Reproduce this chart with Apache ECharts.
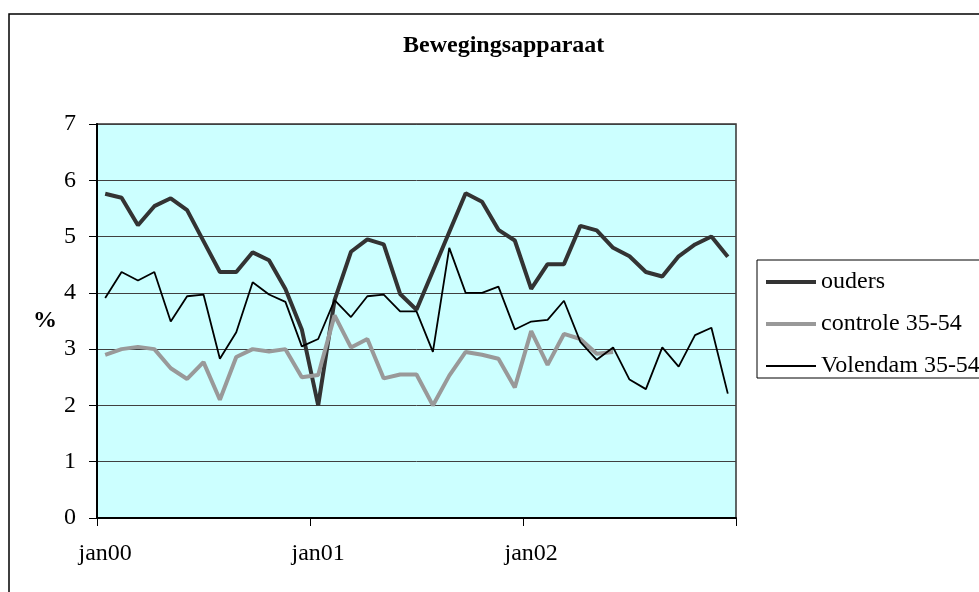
<!DOCTYPE html>
<html>
<head>
<meta charset="utf-8">
<script src="https://cdn.jsdelivr.net/npm/echarts@6/dist/echarts.min.js"></script>
<style>
html,body{margin:0;padding:0;background:#fff;}
#chart{width:979px;height:592px;}
</style>
</head>
<body>
<div id="chart"></div>
<script>
// 13 vierwekelijkse perioden per jaar, label alleen bij de eerste periode
var years = ["00", "01", "02"];
var periodsPerYear = 13;
var categories = [];
years.forEach(function(y){
	for (var p = 1; p <= periodsPerYear; p++) {
		categories.push(p === 1 ? "jan" + y : "p" + p + "-" + y);
	}
});

var ouders = [5.76, 5.69, 5.20, 5.54, 5.68, 5.47, 4.92, 4.37, 4.37, 4.72, 4.58, 4.07, 3.35,
	2.00, 3.87, 4.73, 4.95, 4.86, 3.98, 3.70, 4.39, 5.08, 5.77, 5.62, 5.12, 4.93,
	4.07, 4.51, 4.51, 5.19, 5.11, 4.80, 4.65, 4.37, 4.29, 4.65, 4.86, 5.00, 4.64];
var controle = [2.90, 3.00, 3.04, 3.00, 2.66, 2.47, 2.77, 2.10, 2.86, 3.00, 2.96, 3.00, 2.50,
	2.54, 3.60, 3.03, 3.18, 2.48, 2.55, 2.55, 2.00, 2.53, 2.95, 2.90, 2.83, 2.32,
	3.32, 2.72, 3.27, 3.18, 2.92, 2.95, null, null, null, null, null, null, null];
var volendam = [3.91, 4.37, 4.22, 4.37, 3.49, 3.94, 3.97, 2.83, 3.30, 4.19, 3.97, 3.84, 3.05,
	3.18, 3.87, 3.57, 3.94, 3.97, 3.67, 3.67, 2.95, 4.80, 4.00, 4.00, 4.11, 3.35,
	3.49, 3.52, 3.86, 3.13, 2.81, 3.03, 2.46, 2.29, 3.03, 2.69, 3.25, 3.38, 2.21];
var yTicks = [0, 1, 2, 3, 4, 5, 6, 7];

var serif = "'Liberation Serif', 'Times New Roman', serif";
function yearStart(i){ return i % periodsPerYear === 0; }

var myChart = echarts.init(document.getElementById("chart"));
var option = {
	backgroundColor: "#fff",
	animation: false,
	textStyle: {fontFamily: serif, color: "#000"},
	title: {
		text: "Bewegingsapparaat",
		left: 403,
		top: 34,
		padding: 0,
		textStyle: {fontFamily: serif, fontSize: 24, fontWeight: "bold", color: "#000"}
	},
	graphic: [{
		type: "rect",
		silent: true,
		z: -10,
		shape: {x: 9, y: 14, width: 1000, height: 620},
		style: {fill: "none", stroke: "#000", lineWidth: 1.5}
	}],
	legend: {
		orient: "vertical",
		left: 757,
		top: 260,
		padding: [10, 40, 0, 7],
		itemGap: 18,
		itemWidth: 50,
		itemHeight: 2,
		borderColor: "#000",
		borderWidth: 1,
		itemStyle: {opacity: 0},
		lineStyle: {width: "inherit"},
		textStyle: {fontFamily: serif, fontSize: 24, color: "#000"},
		data: ["ouders", "controle 35-54", "Volendam 35-54"]
	},
	grid: {
		left: 97,
		right: 243,
		top: 124,
		bottom: 74,
		show: true,
		backgroundColor: "#CCFFFF",
		borderColor: "#333",
		borderWidth: 1.5
	},
	xAxis: {
		type: "category",
		data: categories,
		boundaryGap: true,
		axisLine: {lineStyle: {color: "#000", width: 2}},
		axisTick: {show: true, interval: yearStart, length: 8, lineStyle: {color: "#000"}},
		axisLabel: {interval: yearStart, margin: 24, fontSize: 24, fontFamily: serif, color: "#000"},
		splitLine: {show: false}
	},
	yAxis: {
		type: "value",
		min: yTicks[0],
		max: yTicks[yTicks.length - 1],
		interval: 1,
		name: "%",
		nameLocation: "middle",
		nameRotate: 0,
		nameGap: 40,
		nameTextStyle: {fontFamily: serif, fontSize: 24, fontWeight: "bold", color: "#000"},
		axisLine: {show: true, lineStyle: {color: "#000", width: 2}},
		axisTick: {show: true, length: 8, lineStyle: {color: "#000"}},
		axisLabel: {margin: 21, fontSize: 24, fontFamily: serif, color: "#000"},
		splitLine: {show: true, lineStyle: {color: "#404040", width: 1}}
	},
	series: [{
		name: "ouders",
		type: "line",
		data: ouders,
		symbol: "none",
		color: "#333333",
		lineStyle: {color: "#333333", width: 4}
	}, {
		name: "controle 35-54",
		type: "line",
		data: controle,
		symbol: "none",
		color: "#999999",
		lineStyle: {color: "#999999", width: 4}
	}, {
		name: "Volendam 35-54",
		type: "line",
		data: volendam,
		symbol: "none",
		color: "#000000",
		lineStyle: {color: "#000000", width: 1.8}
	}]
};
myChart.setOption(option);
</script>
</body>
</html>
